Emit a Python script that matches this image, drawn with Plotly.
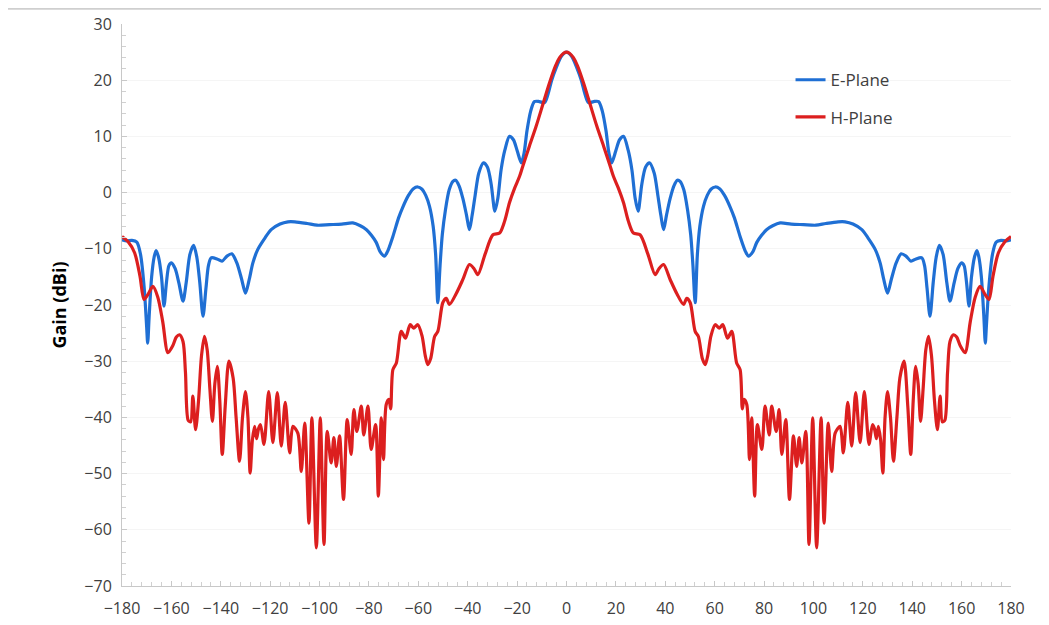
import plotly.graph_objects as go

e_left_deg = [-180, -178, -176, -174, -172.5, -171, -170, -169.6, -169, -168, -167, -166.2, -165.2, -164, -163, -162, -161, -160,
              -158.5, -157, -155.3, -154, -152.5, -151, -149.7, -148.5, -147.2, -146, -145, -143.9, -141.5, -139.5, -137.5,
              -135.5, -133.5, -131.5, -130, -128.5, -127, -125, -122, -119.6, -116, -112.8, -110, -105, -101, -96, -91, -86.5,
              -83.5, -81, -79, -77, -75.5, -73.7, -72.5, -70.3, -68, -66.4, -64, -62, -60.2, -58.5, -57, -55.5, -54, -53,
              -52.1, -51.2, -50.3, -49, -47.5, -46, -44.9, -43.5, -42, -40.5, -39.3, -38.2, -37, -35.5, -33.6, -32, -30.5,
              -29, -27.8, -26.5, -25, -23.1, -21.5, -20, -18.3, -17.2, -16, -14.5, -13, -11, -8.9, -7.5, -6, -4.2, -2, 0]
e_left_gain = [-8.4, -8.6, -8.5, -8.8, -11, -17, -24, -26.8, -22, -15, -11.5, -10.3, -11.5, -15, -20.2, -16, -13, -12.5,
               -13.5, -16, -19.3, -16, -11, -9.4, -11.5, -16, -22, -17, -13, -11.6, -11.8, -12.2, -11.3,
               -10.9, -12.5, -15.5, -17.9, -15.5, -12.5, -10.1, -8, -6.6, -5.6, -5.2, -5.2, -5.5, -5.8, -5.7, -5.6, -5.4,
               -5.9, -6.6, -7.6, -8.9, -10.5, -11.3, -10.5, -7.8, -4.5, -2.7, -0.5, 0.7, 1.0, 0.6, -0.5, -2.4, -6, -11,
               -19.6, -13, -7.5, -3, 0.5, 2, 2.2, 1.2, -1, -4, -6.6, -4, -0.5, 3.5, 5.3, 4.5, 1.5,
               -3.3, -1, 4, 7.5, 10, 9.4, 7.5, 5.3, 7, 11, 14.5, 16.2, 16.2, 16.0, 17.5, 20, 22.2, 24.3, 25]
e_right_deg = [2, 4.2, 6, 7.5, 8.9, 11, 13, 14.5, 16, 17.2, 18.3, 20, 21.5, 23.1, 25, 26.5, 27.8, 29, 30.5, 32, 33.6, 35.5,
               37, 38.2, 39.3, 40.5, 42, 43.5, 44.9, 46, 47.5, 49, 50.3, 51.2, 52.1, 53, 54, 55.5, 57, 58.5, 60.2, 62, 64,
               66.4, 68, 70.3, 72.5, 73.7, 75.5, 77, 79, 81, 83.5, 86.5, 91, 96, 101, 105, 110, 112.8, 116, 119.6, 122,
               125, 127, 128.5, 130, 131.5, 133.5, 135.5, 137.5, 139.5, 141.5, 143.9, 145, 146, 147.2, 148.5, 149.7, 151,
               152.5, 154, 155.3, 157, 158.5, 160, 161, 162, 163, 164, 165.2, 166.2, 167, 168, 169, 169.6, 170, 171,
               172.5, 174, 176, 178, 180]
e_right_gain = [24.3, 22.2, 20, 17.5, 16.0, 16.2, 16.2, 14.5, 11, 7, 5.3, 7.5, 9.4, 10, 7.5, 4, -1, -3.3, 1.5, 4.5, 5.3, 3.5,
                -0.5, -4, -6.6, -4, -1, 1.2, 2.2, 2, 0.5, -3, -7.5, -13, -19.6, -11, -6, -2.4, -0.5, 0.6, 1.0, 0.7, -0.5,
                -2.7, -4.5, -7.8, -10.5, -11.3, -10.5, -8.9, -7.6, -6.6, -5.9, -5.4, -5.6, -5.7, -5.8, -5.5, -5.2, -5.2,
                -5.6, -6.6, -8, -10.1, -12.5, -15.5, -17.9, -15.5, -12.5, -10.9, -11.3, -12.2, -11.8, -11.6, -13, -17,
                -22, -16, -11.5, -9.4, -11, -16, -19.3, -16, -13.5, -12.5, -13, -16, -20.2, -15, -11.5, -10.3, -11.5, -15,
                -22, -26.8, -24, -17, -11, -8.8, -8.5, -8.6, -8.4]

h_left_deg = [-180, -177.6, -174.9, -172.7, -171.1, -169.6, -167.5, -165.5, -163.5, -161.4, -159.5, -158, -156.7, -155.3,
              -154.3, -153.2, -152.2, -151.3, -150.2, -149, -147.8, -146.6, -145.5, -144.4, -143.4, -142.4, -141.4,
              -140.4, -139.4, -138.2, -136.7, -135, -133.8, -132.4, -131.2, -130, -129, -128.1, -127.2, -126.3, -125.5,
              -124.7, -123.9, -122.5, -120.6, -118.9, -117.1, -115.5, -113.9, -112.1, -110.8, -108.8, -107.4, -106,
              -104.3, -103.1, -101.3, -99.7, -98.2, -96.9, -95.3, -94.2, -93.2, -91.9, -90.3, -88.8, -87.2, -86.1,
              -84.9, -83.1, -82.1, -80.4, -79.1, -77.3, -76.2, -75, -74.1, -73, -71.9, -71.2, -70.3, -68.9, -66.9,
              -65.2, -63.3, -61.9, -60.2, -58.5, -57.2, -56.2, -55, -53.4, -52.1, -50.1, -48.7, -47.4, -44.7, -42,
              -39.3, -37.5, -35.9, -33, -29.8, -27.1, -25, -23.1, -21, -19, -17.7, -15, -12.3, -9.5, -6.9, -4.5, -2.8,
              -1.2, 0]
h_left_gain = [-7.8, -8.7, -10.7, -14.9, -19, -18.2, -16.7, -18.6, -23, -28.5, -27.3, -25.7, -25.3, -26.5,
               -32, -40.5, -40.8, -36.2, -42.2, -37, -29, -25.6, -28, -35, -40.7, -34, -30.9,
               -37, -46.6, -38, -30, -33, -40, -47.8, -40, -35.4, -40, -49.9, -44, -41.6, -43.8,
               -42, -41.3, -44.8, -35.4, -44.5, -35.6, -45.1, -37.3, -46.3, -41.6, -42.8, -49.6, -41.0,
               -58.8, -40.1, -63.2, -40.1, -62.6, -42.5, -48.1, -43.6, -48.7, -43.3, -54.6, -40.4, -46.6, -38.6,
               -42.5, -38.0, -43.1, -38.0, -45.7, -41.3, -54.0, -40.1, -47.5, -37.7, -36.8, -38.5, -31.5, -30.3, -24.7,
               -25.9, -23.5, -24.1, -23.5, -25.5, -29, -30.6, -29.5, -25.6, -24.7, -19.6, -18.8, -19.9, -18, -15.5,
               -12.8, -13.5, -14.6, -11, -7.5, -7.2, -5, -1.8, 0.8, 2.9, 4.7, 8.3, 11.8, 15.8, 19.5, 22.5, 24.0,
               24.8, 25]
h_right_deg = [1.2, 2.8, 4.5, 6.9, 9.5, 12.3, 15, 17.7, 19, 21, 23.1, 25, 27.1, 29.8, 33, 35.9, 37.5, 39.3, 42, 44.7,
               47.4, 48.7, 50.1, 52.1, 53.4, 55, 56.2, 57.2, 58.5, 60.2, 61.9, 63.3, 65.2, 66.9, 68.9, 70.3, 71.2, 71.9,
               73, 74.1, 75, 76.2, 77.3, 79.1, 80.4, 82.1, 83.1, 84.9, 86.1, 87.2, 88.8, 90.3, 91.9, 93.2, 94.2, 95.3,
               96.9, 98.2, 99.7, 101.3, 103.1, 104.3, 106, 107.4, 108.8, 110.8, 112.1, 113.9, 115.5, 117.1, 118.9,
               120.6, 122.5, 123.9, 124.7, 125.5, 126.3, 127.2, 128.1, 129, 130, 131.2, 132.4, 133.8, 135, 136.7, 138.2,
               139.4, 140.4, 141.4, 142.4, 143.4, 144.4, 145.5, 146.6, 147.8, 149, 150.2, 151.3, 152.2, 153.2, 154.3,
               155.3, 156.7, 158, 159.5, 161.4, 163.5, 165.5, 167.5, 169.6, 171.1, 172.7, 174.9, 177.6, 180]
h_right_gain = [24.8, 24.0, 22.5, 19.5, 15.8, 11.8, 8.3, 4.7, 2.9, 0.8, -1.8, -5, -7.2, -7.5, -11, -14.6, -13.5, -12.8,
                -15.5, -18, -19.9, -18.8, -19.6, -24.7, -25.6, -29.5, -30.6, -29, -25.5, -23.5, -24.1, -23.5, -25.9,
                -24.7, -30.3, -31.5, -38.5, -36.8, -37.7, -47.5, -40.1, -54.0, -41.3, -45.7, -38.0, -43.1, -38.0, -42.5,
                -38.6, -46.6, -40.4, -54.6, -43.3, -48.7, -43.6, -48.1, -42.5, -62.6, -40.1, -63.2, -40.1, -58.8, -41.0,
                -49.6, -42.8, -41.6, -46.3, -37.3, -45.1, -35.6, -44.5, -35.4, -44.8, -41.3, -42, -43.8, -41.6, -44,
                -49.9, -40, -35.4, -40, -47.8, -40, -33, -30, -38, -46.6, -37, -30.9, -34, -40.7, -35, -28, -25.6, -29,
                -37, -42.2, -36.2, -40.8, -40.5, -32, -26.5, -25.3, -25.7, -27.3, -28.5, -23, -18.6, -16.7, -18.2, -19,
                -14.9, -10.7, -8.7, -7.8]

series_names = ["E-Plane", "H-Plane"]
series_colors = ["#1f6fd4", "#dc1f1f"]

e_deg = e_left_deg + e_right_deg
e_gain = e_left_gain + e_right_gain
h_deg = h_left_deg + h_right_deg
h_gain = h_left_gain + h_right_gain

fig = go.Figure()
fig.add_trace(go.Scatter(x=e_deg, y=e_gain, mode="lines", name=series_names[0], legendgroup="e",
                         line=dict(color=series_colors[0], width=3.2, shape="spline", smoothing=0.8)))
fig.add_trace(go.Scatter(x=h_deg, y=h_gain, mode="lines", name=series_names[1], legendgroup="h",
                         line=dict(color=series_colors[1], width=3.2, shape="spline", smoothing=0.8)))

FONT = "Open Sans, Liberation Sans, sans-serif"
axis_font = dict(family=FONT, size=16, color="#404040")

# the page is shown with an 8px body margin, so the figure is sized/offset for that
fig.update_layout(
    width=1041, height=617,
    margin=dict(l=114, r=38, t=16, b=39, autoexpand=False),
    paper_bgcolor="white", plot_bgcolor="white",
    font=axis_font,
    legend=dict(x=0.752, y=0.932, xanchor="left", yanchor="top", traceorder="grouped", tracegroupgap=12,
                font=dict(family=FONT, size=17, color="#404040"),
                bgcolor="rgba(0,0,0,0)"),
    xaxis=dict(range=[-180, 180], tick0=-180, dtick=20, showgrid=False, zeroline=False, automargin=False,
               showline=True, linecolor="#c8c8c8", linewidth=1,
               ticks="inside", ticklen=5, tickcolor="#c8c8c8", ticklabelstandoff=8,
               minor=dict(dtick=4, ticks="inside", ticklen=4, tickcolor="#d0d0d0", showgrid=False),
               tickfont=axis_font),
    yaxis=dict(range=[-70, 30], dtick=10, showgrid=True, gridcolor="#f5f5f5", zeroline=False, automargin=False,
               showline=True, linecolor="#c8c8c8", linewidth=1,
               ticks="inside", ticklen=5, tickcolor="#c8c8c8", ticklabelstandoff=6,
               minor=dict(dtick=2, ticks="inside", ticklen=4, tickcolor="#d0d0d0", showgrid=False),
               tickfont=axis_font,
               title=dict(text="<b>Gain (dBi)</b>", standoff=13,
                          font=dict(family=FONT, size=18, color="#000000"))),
)

fig.add_shape(type="line", xref="paper", yref="paper", x0=-0.15, x1=1.05, y0=1.027, y1=1.027,
              line=dict(color="#cfcfcf", width=2))

fig.write_html("out.html")
